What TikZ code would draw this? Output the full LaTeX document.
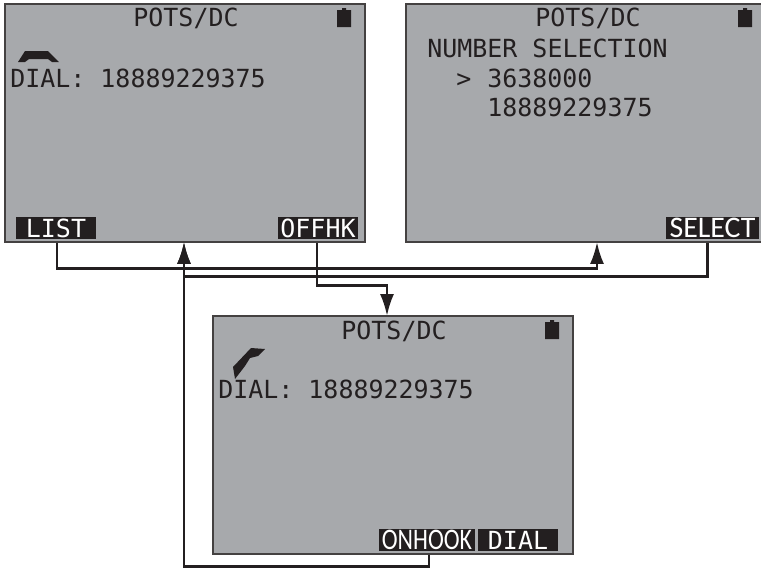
\documentclass[tikz,border=0pt]{standalone}
\usepackage{fontspec}
\setmainfont{DejaVu Sans Mono}
\newfontfamily\softfont{Carlito}
\definecolor{LcdGray}{RGB}{167,169,172}
\definecolor{LcdInk}{RGB}{35,31,32}
\usetikzlibrary{arrows.meta,positioning}
\tikzset{>={Latex[length=12.5pt,width=8pt]}}
\tikzset{myscreen/.style={draw=LcdInk!85,line width=.9pt,fill=LcdGray,minimum width=360*.02cm,minimum height=238*.02cm,inner sep=0pt}}
\tikzset{mytext/.style={text=LcdInk,anchor=base west,inner sep=0pt,font=\fontsize{14.2}{16}\selectfont}}
\tikzset{mytitle/.style={mytext,anchor=base}}
\tikzset{mykey/.style={fill=LcdInk,text=white,minimum width=80*.02cm,minimum height=22*.02cm,inner sep=0pt,font=\fontsize{14.2}{16}\selectfont}}
\tikzset{mysoft/.style={mykey,minimum width=#1*.02cm,font=\softfont\fontsize{17}{18}\selectfont}}
\tikzset{mywire/.style={draw=LcdInk,line width=1.5pt}}
\begin{document}
\begin{tikzpicture}[x=.02cm,y=-.02cm]
    \useasboundingbox (0,0) rectangle (761,568);

    % the three screens
    \node[myscreen] (scrA) at (185,123) {};
    \node[myscreen] (scrB) at (586,123) {};
    \node[myscreen] (scrC) at (393,435) {};

    \foreach \n/\x/\y in {titleA/186/27, titleB/588/27, titleC/394/339} {
        \node[mytitle] (\n) at (\x,\y) {POTS/DC};
    }
    \foreach \x/\y in {337/10, 738/10, 545/322} {
        \fill[LcdInk] (\x,\y) rectangle ++(14,17) (\x+5,\y-2) rectangle ++(4,3);
    }

    \node[mytext] (dialA) at (10,87) {DIAL: 18889229375};
    \node[mytext] (dialC) at (218,398) {DIAL: 18889229375};
    \node[mytext] (sel) at (427,57) {NUMBER SELECTION};
    \node[mytext] (mark) at (456,87) {>};
    \node[mytext] (numA) at (487,87) {3638000};
    \node[mytext] (numB) at (487,116) {18889229375};

    % handsets
    \fill[LcdInk] (18,62) -- (25,51) -- (48,51) -- (59,62) -- (52,62) -- (48,59) -- (29,59) -- (25,62) -- cycle;
    \fill[LcdInk] (233,367) -- (251,348) -- (265,349) -- (258,356) -- (250,358) -- (245,366) -- (235,379) -- cycle;

    % soft keys
    \node[mykey] (list) at (56,228) {LIST};
    \node[mykey] (offhk) at (318,228) {OFFHK};
    \node[mysoft=93] (select) at (712.5,228) {SELECT};
    \node[mysoft=96] (onhook) at (427,540) {\scalebox{.8}[1]{ONHOOK}};
    \node[mykey] (dial) at (518,540) {DIAL};

    \coordinate (inA) at (184,242);
    \coordinate (inB) at (597,242);
    \coordinate (inC) at (387,316);

    \draw[mywire,->] ([xshift=.5pt]list.south |- scrA.south) -- ++(0,26) -| (inB);
    \draw[mywire,->] ([xshift=-2.8pt]select.south |- scrB.south) -- ++(0,34) -| (inA);
    \draw[mywire,->] ([xshift=-.5pt]offhk.south |- scrA.south) -- ++(0,43) -| (inC);
    \draw[mywire,->] ([xshift=1.1pt]onhook.south |- scrC.south) -- ++(0,12) -| (inA);
\end{tikzpicture}
\end{document}
